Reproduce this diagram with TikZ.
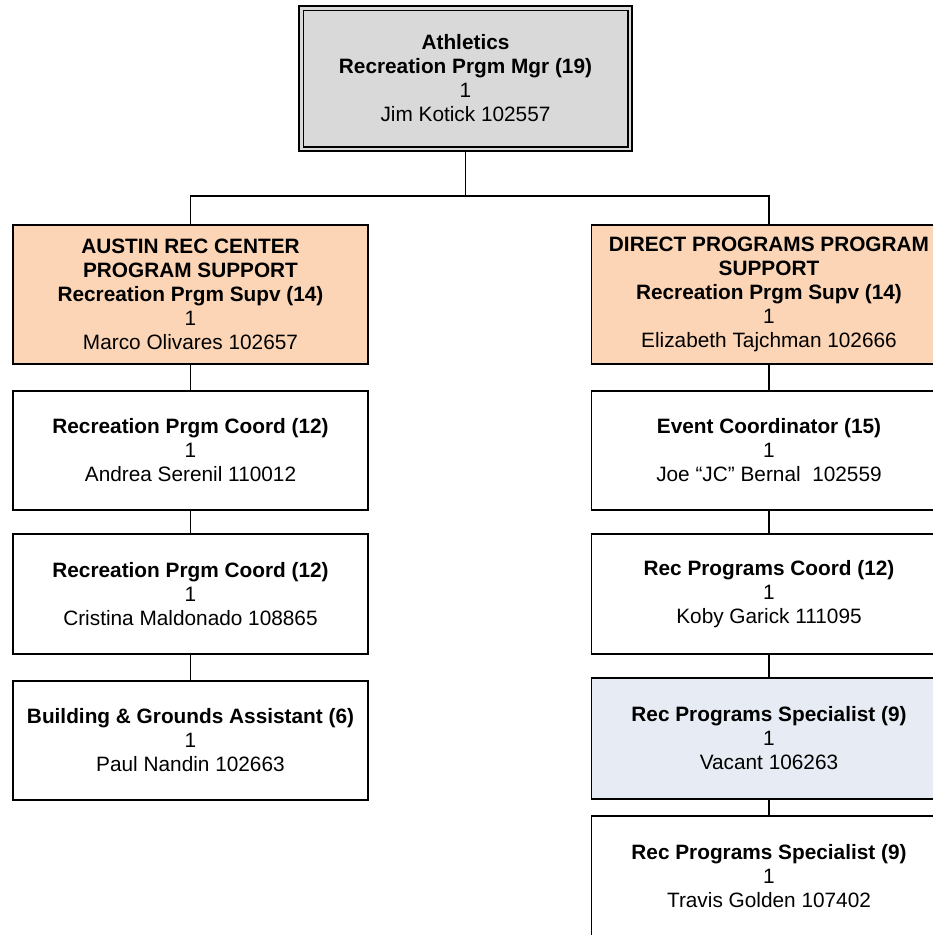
\documentclass[tikz,border=0pt]{standalone}
\usepackage{fontspec}
\setmainfont{Liberation Sans}
\definecolor{topgray}{HTML}{D9D9D9}
\definecolor{peach}{HTML}{FBD5B5}
\definecolor{paleblue}{HTML}{E7ECF4}
\tikzset{
  orgbox/.style={draw=black, line width=1.6pt, rectangle, inner sep=0pt, align=center,
    minimum width=355pt, font=\fontsize{20.8}{24}\selectfont, text=black},
  topbox/.style={orgbox, fill=topgray, draw=black, double=topgray, double distance=2.8pt,
    line width=1.7pt, minimum width=328.8pt, minimum height=140.8pt},
  supbox/.style={orgbox, fill=peach, minimum height=139pt},
  plainbox/.style={orgbox, fill=white},
  vacbox/.style={orgbox, fill=paleblue},
  link/.style={draw=black, line width=1.6pt}
}
\begin{document}
\begin{tikzpicture}[x=1pt,y=-1pt]
\clip (0,0) rectangle (933,935);
\fill[white] (0,0) rectangle (933,935);

\node[topbox] (top) at (465.5,78.5) {\textbf{Athletics}\\\textbf{Recreation Prgm Mgr (19)}\\1\\Jim Kotick 102557};

\node[supbox] (austin) at (190.5,294.5) {\textbf{AUSTIN REC CENTER}\\\textbf{PROGRAM SUPPORT}\\\textbf{Recreation Prgm Supv (14)}\\1\\Marco Olivares 102657};
\node[supbox] (direct) at (769,294.5) {\textbf{DIRECT PROGRAMS PROGRAM}\\\textbf{SUPPORT}\\\textbf{Recreation Prgm Supv (14)}\\1\\Elizabeth Tajchman 102666};

\node[plainbox, minimum height=119pt] (l2) at (190.5,450.5) {\textbf{Recreation Prgm Coord (12)}\\1\\Andrea Serenil 110012};
\node[plainbox, minimum height=120pt] (l3) at (190.5,594) {\textbf{Recreation Prgm Coord (12)}\\1\\Cristina Maldonado 108865};
\node[plainbox, minimum height=119pt] (l4) at (190.5,740.5) {\textbf{Building \& Grounds Assistant (6)}\\1\\Paul Nandin 102663};

\node[plainbox, minimum height=119pt] (r2) at (769,450.5) {\textbf{Event Coordinator (15)}\\1\\Joe “JC” Bernal\ \ 102559};
\node[plainbox, minimum height=120pt] (r3) at (769,594) {\textbf{Rec Programs Coord (12)}\\1\\Koby Garick 111095};
\node[vacbox, minimum height=121pt] (r4) at (769,738.5) {\textbf{Rec Programs Specialist (9)}\\1\\Vacant 106263};
\node[plainbox, minimum height=121pt] (r5) at (769,876.5) {\textbf{Rec Programs Specialist (9)}\\1\\Travis Golden 107402};

\coordinate (bus) at (465.5,196);
\draw[link] (top.south) -- (bus);
\draw[link] (bus) -| (austin.north);
\draw[link] (bus) -| (direct.north);
\draw[link] (austin) -- (l2);
\draw[link] (l2) -- (l3);
\draw[link] (l3) -- (l4);
\draw[link] (direct) -- (r2);
\draw[link] (r2) -- (r3);
\draw[link] (r3) -- (r4);
\draw[link] (r4) -- (r5);
\end{tikzpicture}
\end{document}
